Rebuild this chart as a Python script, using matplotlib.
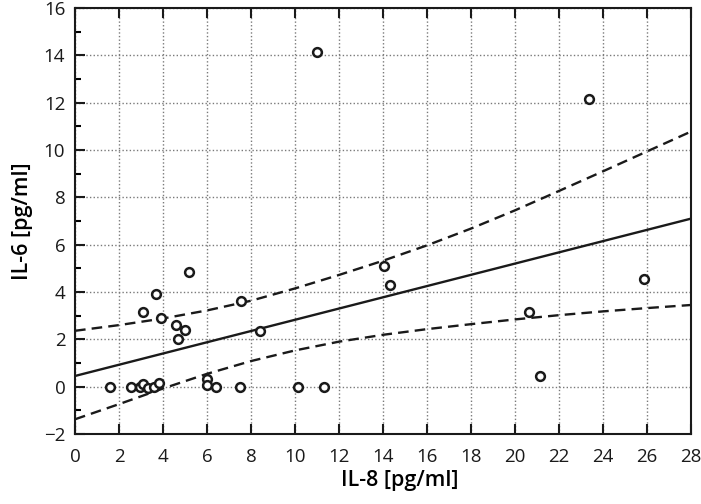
import numpy as np
import matplotlib.pyplot as plt
from matplotlib.ticker import MultipleLocator

plt.rcParams['font.family'] = ['Open Sans', 'DejaVu Sans']

il8 = [1.6, 2.55, 2.95, 3.1, 3.3, 3.6, 3.8, 6.0, 6.0, 6.4, 7.5,
       3.1, 3.9, 4.6, 5.0, 4.7, 8.4, 7.55, 5.2, 3.7,
       10.15, 11.3, 11.0, 14.05, 14.3, 20.65, 21.15, 23.35, 25.85]
il6 = [0.0, 0.0, 0.0, 0.12, -0.05, -0.02, 0.15, 0.32, 0.08, 0.0, 0.0,
       3.15, 2.9, 2.6, 2.4, 2.0, 2.35, 3.6, 4.85, 3.9,
       0.0, 0.0, 14.15, 5.1, 4.3, 3.15, 0.45, 12.15, 4.55]

# regression line and 95% confidence band
fit_x = [0, 28]
fit_y = [0.45, 7.1]
band_x = [0, 2, 4, 6, 8, 10, 12, 14, 16, 18, 20, 22, 24, 26, 28]
band_hi = [2.36, 2.6, 2.88, 3.22, 3.63, 4.15, 4.72, 5.32, 5.97, 6.68, 7.45, 8.27, 9.1, 9.94, 10.78]
band_lo = [-1.38, -0.74, -0.08, 0.54, 1.08, 1.53, 1.9, 2.19, 2.43, 2.64, 2.84, 3.02, 3.18, 3.32, 3.45]

fig = plt.figure(figsize=(7.01, 5.04), dpi=100)
ax = fig.add_axes([0.107, 0.139, 0.8787, 0.845])

ax.plot(fit_x, fit_y, color='#1a1a1a', lw=1.7)
ax.plot(band_x, band_hi, color='#1a1a1a', lw=1.7, dashes=(4.5, 2.6))
ax.plot(band_x, band_lo, color='#1a1a1a', lw=1.7, dashes=(4.5, 2.6))
ax.plot(il8, il6, 'o', mfc='white', mec='#1a1a1a', ms=6.3, mew=1.8, zorder=5)

ax.set_xlim(0, 28)
ax.set_ylim(-2, 16)
ax.xaxis.set_major_locator(MultipleLocator(2))
ax.yaxis.set_major_locator(MultipleLocator(2))
ax.yaxis.set_minor_locator(MultipleLocator(1))

ax.grid(True, which='major', ls=(0, (1, 1.6)), color='#7a7a7a', lw=1.0)
ax.set_axisbelow(True)

ax.tick_params(axis='both', which='major', direction='in', length=7, width=1.5,
               labelsize=13.5, colors='#1a1a1a')
ax.tick_params(axis='x', which='major', top=True, pad=10)
ax.tick_params(axis='y', which='major', pad=7)
ax.tick_params(axis='y', which='minor', direction='in', length=4, width=1.5)
for s in ax.spines.values():
    s.set_linewidth(1.5)
    s.set_color('#1a1a1a')

ax.set_xlabel('IL-8 [pg/ml]', fontsize=15.5, fontweight='semibold', labelpad=8)
ax.xaxis.set_label_coords(0.527, -0.085)
ax.set_ylabel('IL-6 [pg/ml]', fontsize=15.5, fontweight='semibold', labelpad=8)

fig.savefig('out.png', dpi=100)
